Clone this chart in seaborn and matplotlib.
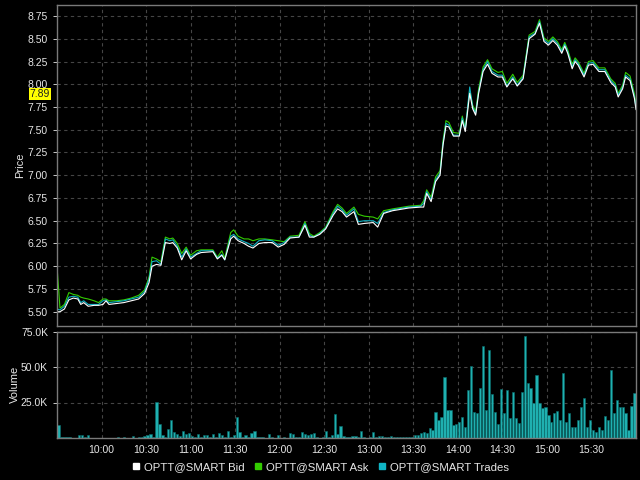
import pandas as pd
import matplotlib
matplotlib.use('Agg')
import matplotlib.pyplot as plt
import matplotlib.dates as mdates
import matplotlib.transforms as mtransforms
from matplotlib.lines import Line2D
from matplotlib.ticker import FuncFormatter
import seaborn as sns

# price samples (clock time)
price_times = [
    '09:30', '09:32', '09:35', '09:38', '09:41', '09:44', '09:46', '09:48', '09:51', '09:55',
    '09:58', '10:01', '10:03', '10:05', '10:10', '10:15', '10:20', '10:25', '10:29', '10:32',
    '10:34', '10:37', '10:40', '10:43', '10:46', '10:48', '10:51', '10:54', '10:57', '11:00',
    '11:04', '11:07', '11:15', '11:18', '11:21', '11:23', '11:27', '11:29', '11:32', '11:36',
    '11:39', '11:42', '11:46', '11:50', '11:55', '11:59', '12:03', '12:07', '12:13', '12:17',
    '12:20', '12:23', '12:27', '12:31', '12:36', '12:39', '12:42', '12:45', '12:50', '12:53',
    '12:57', '13:03', '13:06', '13:10', '13:16', '13:27', '13:35', '13:37', '13:39', '13:42',
    '13:45', '13:48', '13:50', '13:52', '13:54', '13:57', '14:01', '14:03', '14:05', '14:08',
    '14:10', '14:12', '14:14', '14:17', '14:20', '14:23', '14:27', '14:30', '14:33', '14:37',
    '14:40', '14:44', '14:46', '14:48', '14:52', '14:55', '14:58', '15:01', '15:04', '15:07',
    '15:10', '15:12', '15:14', '15:17', '15:19', '15:21', '15:25', '15:28', '15:31', '15:35',
    '15:39', '15:43', '15:46', '15:48', '15:51', '15:53', '15:56', '15:59', '16:00',
]
trades = [
    5.53, 5.52, 5.56, 5.66, 5.67, 5.66, 5.60, 5.62, 5.58, 5.58,
    5.58, 5.62, 5.63, 5.60, 5.61, 5.62, 5.64, 5.66, 5.72, 5.86,
    6.05, 6.06, 6.02, 6.30, 6.28, 6.29, 6.22, 6.10, 6.19, 6.10,
    6.14, 6.17, 6.17, 6.09, 6.13, 6.07, 6.33, 6.35, 6.30, 6.27,
    6.25, 6.22, 6.28, 6.29, 6.28, 6.23, 6.26, 6.32, 6.32, 6.47,
    6.34, 6.32, 6.36, 6.42, 6.58, 6.66, 6.62, 6.56, 6.63, 6.49,
    6.50, 6.50, 6.47, 6.59, 6.62, 6.65, 6.66, 6.69, 6.82, 6.73,
    6.95, 7.02, 7.35, 7.57, 7.55, 7.44, 7.44, 7.63, 7.50, 7.97,
    7.75, 7.68, 7.92, 8.16, 8.25, 8.14, 8.10, 8.10, 7.98, 8.08,
    7.99, 8.08, 8.30, 8.52, 8.56, 8.69, 8.49, 8.45, 8.50, 8.45,
    8.36, 8.44, 8.36, 8.19, 8.27, 8.23, 8.10, 8.23, 8.24, 8.16,
    8.16, 8.04, 7.99, 7.88, 7.97, 8.10, 8.06, 7.86, 7.74,
]
bid = [
    5.50, 5.50, 5.53, 5.63, 5.65, 5.64, 5.58, 5.60, 5.56, 5.57,
    5.57, 5.58, 5.62, 5.58, 5.59, 5.60, 5.62, 5.64, 5.70, 5.82,
    6.00, 6.02, 6.01, 6.26, 6.25, 6.26, 6.20, 6.07, 6.17, 6.08,
    6.13, 6.15, 6.16, 6.08, 6.12, 6.07, 6.30, 6.33, 6.28, 6.25,
    6.22, 6.20, 6.25, 6.26, 6.26, 6.21, 6.24, 6.31, 6.32, 6.45,
    6.32, 6.32, 6.35, 6.41, 6.56, 6.63, 6.60, 6.54, 6.60, 6.46,
    6.47, 6.48, 6.43, 6.58, 6.61, 6.64, 6.65, 6.65, 6.80, 6.71,
    6.93, 7.00, 7.33, 7.54, 7.53, 7.43, 7.43, 7.60, 7.48, 7.90,
    7.73, 7.66, 7.90, 8.14, 8.22, 8.12, 8.08, 8.08, 7.97, 8.06,
    7.98, 8.06, 8.28, 8.50, 8.55, 8.67, 8.47, 8.43, 8.48, 8.43,
    8.34, 8.42, 8.34, 8.17, 8.25, 8.21, 8.08, 8.21, 8.22, 8.14,
    8.14, 8.02, 7.97, 7.86, 7.95, 8.08, 8.04, 7.84, 7.72,
]
ask = [
    6.00, 5.54, 5.58, 5.71, 5.69, 5.68, 5.66, 5.65, 5.64, 5.62,
    5.60, 5.64, 5.64, 5.62, 5.62, 5.63, 5.65, 5.68, 5.74, 5.88,
    6.10, 6.08, 6.05, 6.32, 6.30, 6.31, 6.25, 6.14, 6.21, 6.12,
    6.17, 6.18, 6.18, 6.10, 6.17, 6.09, 6.37, 6.40, 6.33, 6.30,
    6.30, 6.28, 6.30, 6.30, 6.29, 6.28, 6.27, 6.33, 6.34, 6.49,
    6.36, 6.33, 6.37, 6.43, 6.60, 6.68, 6.64, 6.58, 6.65, 6.57,
    6.55, 6.54, 6.52, 6.61, 6.63, 6.66, 6.67, 6.72, 6.84, 6.76,
    6.98, 7.05, 7.38, 7.60, 7.58, 7.47, 7.46, 7.65, 7.52, 7.92,
    7.77, 7.70, 7.95, 8.19, 8.27, 8.17, 8.13, 8.14, 8.01, 8.11,
    8.02, 8.10, 8.32, 8.54, 8.58, 8.71, 8.51, 8.47, 8.52, 8.47,
    8.38, 8.46, 8.38, 8.22, 8.29, 8.25, 8.12, 8.25, 8.26, 8.18,
    8.18, 8.06, 8.01, 7.90, 7.99, 8.13, 8.09, 7.89, 7.77,
]

# volume per 2-minute bar, in thousands, starting 09:30
volume_k = [
    9, 1, 0.5, 1, 0.5, 0, 0, 2, 2, 1,
    2, 0, 0, 0, 0, 0, 0, 0, 0, 0,
    1, 0, 1, 0, 0, 1.5, 0, 1, 1, 1.5,
    2, 3, 1, 25.6, 9.6, 2, 1, 6, 12.7, 4.5,
    2.6, 1.5, 5, 2.5, 3.3, 1.5, 1, 2.6, 0.5, 2,
    2, 0.5, 2.5, 0.5, 3.3, 2, 0.5, 5, 1, 2,
    14.6, 4, 1, 2, 1, 3.8, 5, 1, 1, 0.5,
    0, 2.6, 0.5, 0, 2, 0, 0.5, 0, 3.3, 3,
    0.5, 0.5, 4, 3, 2, 2.5, 3.3, 1, 0, 0.5,
    5, 0.5, 2, 17, 2.6, 8.5, 1.5, 1, 0.5, 1.5,
    1.5, 0.5, 5, 0.5, 0, 0.5, 4.5, 0.5, 1.5, 1.5,
    0.5, 0.5, 1.5, 0.5, 1, 0.5, 1, 0.5, 1, 0.5,
    2, 2, 3.3, 4.5, 3.3, 7, 5.6, 18.6, 12.7, 14.6,
    42.8, 19.8, 20, 9, 10, 11.5, 15, 8, 34, 51,
    18.6, 17.4, 35.5, 64.5, 19.8, 62, 31, 18.6, 10, 34.4,
    17.4, 33.9, 14, 32.7, 14, 10.8, 32.7, 72, 38.6, 35,
    25, 44.5, 24.5, 21, 21.6, 16, 11.5, 17.9, 19.3, 12.7,
    45.6, 11.5, 17.4, 8, 8, 12.7, 22, 28, 8, 13,
    5.6, 4.5, 7.5, 5.6, 15.5, 12.7, 48, 17.4, 26.8, 22,
    21.6, 17.4, 5.6, 22.6, 31.5,
]

series_names = ['OPTT@SMART Bid', 'OPTT@SMART Ask', 'OPTT@SMART Trades']
series_colors = ['#ffffff', '#33cc00', '#10b4c4']
last_label = 7.89

day = '2020-06-01 '
t_price = pd.to_datetime([day + t for t in price_times])
prices = pd.DataFrame({'time': t_price, 'Bid': bid, 'Ask': ask, 'Trades': trades})
t_vol = pd.date_range(day + '09:31', periods=len(volume_k), freq='2min')
vol = pd.DataFrame({'time': t_vol, 'volume': [v * 1000 for v in volume_k]})

sns.set_style('dark', rc={
    'figure.facecolor': 'black', 'axes.facecolor': 'black',
    'axes.edgecolor': '#808080', 'text.color': '#e6e6e6',
    'axes.labelcolor': '#e6e6e6', 'xtick.color': '#e6e6e6', 'ytick.color': '#e6e6e6',
})
plt.rcParams['font.family'] = ['Liberation Sans', 'DejaVu Sans']

fig = plt.figure(figsize=(6.4, 4.8), dpi=100)
ax_p = fig.add_axes([57 / 640, 1 - 326 / 480, 579 / 640, 321 / 480])
ax_v = fig.add_axes([57 / 640, 1 - 438 / 480, 579 / 640, 106.5 / 480], sharex=ax_p)

# price lines
sns.lineplot(data=prices, x='time', y='Ask', ax=ax_p, color=series_colors[1], lw=0.8)
sns.lineplot(data=prices, x='time', y='Trades', ax=ax_p, color=series_colors[2], lw=0.8)
sns.lineplot(data=prices, x='time', y='Bid', ax=ax_p, color=series_colors[0], lw=0.8)

# volume bars
ax_v.bar(vol['time'], vol['volume'], width=1.5 / 1440, color='#1fb0b0',
         edgecolor='#0b6a6a', linewidth=0.4)

x0 = pd.Timestamp(day + '09:30')
x1 = pd.Timestamp(day + '16:00')
tick_times = pd.date_range(day + '10:00', day + '15:30', freq='30min')

for ax in (ax_p, ax_v):
    ax.set_xlim(x0, x1)
    ax.set_xticks(tick_times)
    ax.xaxis.set_major_formatter(mdates.DateFormatter('%H:%M'))
    ax.grid(True, color='#454545', linestyle=(0, (3, 3)), linewidth=0.8)
    ax.tick_params(axis='both', labelsize=7.5, length=3, width=0.6, colors='#e6e6e6',
                   left=True, bottom=False)
    for s in ax.spines.values():
        s.set_color('#7a7a7a')
        s.set_linewidth(1.0)
    ax.set_xlabel('')

ax_p.set_ylim(5.343, 8.871)
ax_p.set_yticks([5.5 + 0.25 * i for i in range(14)])
ax_p.yaxis.set_major_formatter(FuncFormatter(lambda v, p: f'{v:.2f}'))
ax_p.set_ylabel('Price', fontsize=8, labelpad=2)
ax_p.tick_params(axis='x', labelbottom=False)

ax_v.set_ylim(0, 75000)
ax_v.set_yticks([25000, 50000, 75000])
ax_v.yaxis.set_major_formatter(FuncFormatter(lambda v, p: f'{v / 1000:.1f}K'))
ax_v.set_ylabel('Volume', fontsize=8, labelpad=1)
ax_v.tick_params(axis='x', pad=2)

# last price marker on the price axis
trans = mtransforms.blended_transform_factory(ax_p.transAxes, ax_p.transData)
ax_p.text(-0.012, last_label, f'{last_label:.2f}', transform=trans, ha='right', va='center',
          fontsize=7.5, color='#202020', zorder=5,
          bbox=dict(facecolor='#ffff00', edgecolor='none', pad=0.6))

handles = [Line2D([], [], marker='s', linestyle='none', markersize=4.5,
                  markerfacecolor=c, markeredgecolor=c) for c in series_colors]
fig.legend(handles, series_names, loc='center', bbox_to_anchor=(0.5, 1 - 467 / 480),
           ncol=3, frameon=False, fontsize=8.2, handletextpad=0.3, columnspacing=0.8,
           handlelength=0.8)

fig.savefig('out.png', dpi=100, facecolor='black')
